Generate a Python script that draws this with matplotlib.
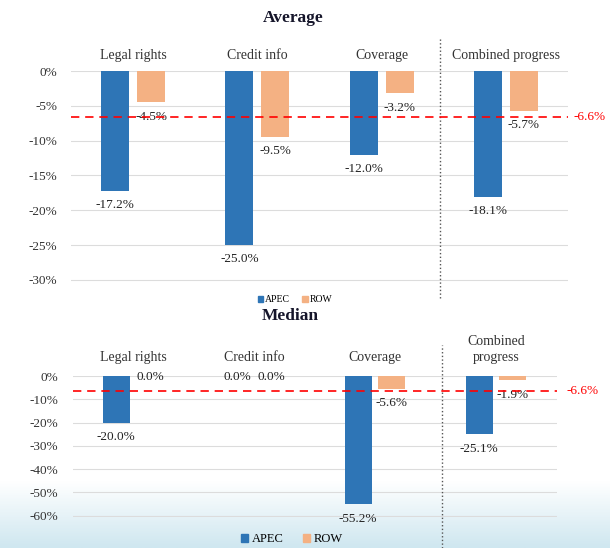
import numpy as np
import matplotlib
matplotlib.use('Agg')
import matplotlib.pyplot as plt
from matplotlib.patches import Patch

plt.rcParams['font.family'] = ['Liberation Serif', 'DejaVu Serif']

# data
categories = ['Legal rights', 'Credit info', 'Coverage', 'Combined progress']
categories_median = ['Legal rights', 'Credit info', 'Coverage', 'Combined\nprogress']
avg_apec = [-17.2, -25.0, -12.0, -18.1]
avg_row = [-4.5, -9.5, -3.2, -5.7]
med_apec = [-20.0, 0.0, -55.2, -25.1]
med_row = [0.0, 0.0, -5.6, -1.9]
ref_line = -6.6
avg_ticks = [0, -5, -10, -15, -20, -25, -30]
med_ticks = [0, -10, -20, -30, -40, -50, -60]

blue = '#2E75B6'
orange = '#F4B183'

fig = plt.figure(figsize=(6.1, 5.48), dpi=100)

# background with light blue band at the bottom
bg = fig.add_axes([0, 0, 1, 1], zorder=-10)
grad = np.linspace(0, 1, 300)
grad = np.clip((grad - 0.88) / 0.12, 0, 1)[:, None]
cmap = matplotlib.colors.LinearSegmentedColormap.from_list('bg', ['#ffffff', '#cfe7f0'])
bg.imshow(grad, aspect='auto', cmap=cmap, extent=[0, 1, 0, 1], vmin=0, vmax=1)
bg.axis('off')


def draw_panel(ax, labels, apec, row, ticks, w, off, vline_x, vline_span, lab_off, lab_va, ref_x):
    x = np.arange(len(labels))
    b1 = ax.bar(x - off, apec, w, color=blue, zorder=3)
    b2 = ax.bar(x + off, row, w, color=orange, zorder=3)
    ax.set_xlim(-0.5, len(labels) - 0.5)
    lo = min(ticks)
    ax.set_ylim(lo * 1.01, 0)
    ax.set_yticks(ticks)
    ax.set_yticklabels([f'{t}%' for t in ticks], fontsize=9.5, color='#333333')
    ax.set_xticks([])
    ax.tick_params(axis='y', length=0, pad=10)
    for s in ax.spines.values():
        s.set_visible(False)
    ax.grid(axis='y', color='#dcdcdc', lw=0.8, zorder=0)
    ax.set_facecolor('none')

    for xs, vals in ((x - off, apec), (x + off, row)):
        for xi, v in zip(xs, vals):
            if v == 0:
                ax.annotate(f'{v:.1f}%', (xi, 0), xytext=(0, -1), textcoords='offset points',
                            ha='center', va='center', fontsize=9.5, color='#222222')
            else:
                ax.annotate(f'{v:.1f}%', (xi, v), xytext=(0, -6), textcoords='offset points',
                            ha='center', va='top', fontsize=9.5, color='#222222')

    for xi, lab in zip(x, labels):
        ax.annotate(lab, (xi, 1), xycoords=('data', 'axes fraction'), xytext=(0, lab_off),
                    textcoords='offset points', ha='center', va=lab_va, fontsize=10,
                    color='#333333', linespacing=1.3)

    ax.axhline(ref_line, color='red', ls=(0, (5, 3.5)), lw=1.2, zorder=4)
    ax.annotate(f'{ref_line:.1f}%', (ref_x, ref_line), xycoords=('axes fraction', 'data'),
                ha='left', va='center', fontsize=9.5, color='red', annotation_clip=False)
    ax.axvline(vline_x, ymin=vline_span[0], ymax=vline_span[1], color='#555555',
               ls=':', lw=1, clip_on=False)
    return b1, b2


ax1 = fig.add_axes([71 / 610, 1 - 282 / 548, 497 / 610, 211 / 548])
h1 = draw_panel(ax1, categories, avg_apec, avg_row, avg_ticks, 0.225, 0.145,
                2.47, (-0.076, 1.16), 11.5, 'center', 1.012)

ax2 = fig.add_axes([72.5 / 610, 1 - 517 / 548, 484 / 610, 141 / 548])
h2 = draw_panel(ax2, categories_median, med_apec, med_row, med_ticks, 0.223, 0.14,
                2.55, (-0.22, 1.22), 8.5, 'bottom', 1.02)

fig.text(293 / 610, 1 - 18 / 548, 'Average', ha='center', va='center',
         fontsize=12.5, fontweight='bold', color='#15152a')
fig.text(290 / 610, 1 - 316 / 548, 'Median', ha='center', va='center',
         fontsize=12.5, fontweight='bold', color='#15152a')

handles = [Patch(color=blue), Patch(color=orange)]
fig.legend(handles, ['APEC', 'ROW'], loc='center', bbox_to_anchor=(295 / 610, 1 - 300 / 548),
           ncol=2, frameon=False, fontsize=7, handlelength=0.6, handleheight=0.6,
           handletextpad=0.2, columnspacing=1.2, borderpad=0.2)
fig.legend(handles, ['APEC', 'ROW'], loc='center', bbox_to_anchor=(292 / 610, 1 - 539 / 548),
           ncol=2, frameon=False, fontsize=9, handlelength=0.6, handleheight=0.6,
           handletextpad=0.3, columnspacing=1.5, borderpad=0.1)

fig.savefig('out.png', dpi=100)
